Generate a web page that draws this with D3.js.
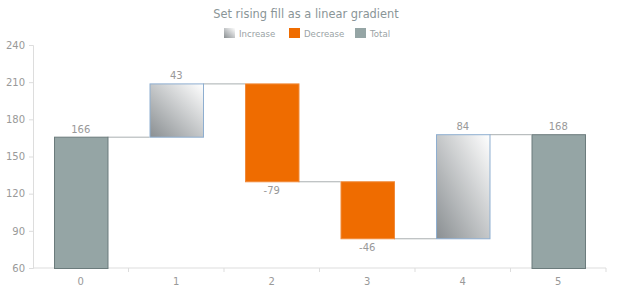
<!DOCTYPE html>
<html>
<head>
<meta charset="utf-8">
<script src="https://cdn.jsdelivr.net/npm/d3@7"></script>
<style>
  body { margin: 0; background: #fff; }
  text { font-family: 'DejaVu Sans', sans-serif; }
</style>
</head>
<body>
<div id="chart"></div>
<script>
const categories = ['0', '1', '2', '3', '4', '5'];
const changes = [166, 43, -79, -46, 84, 168];
const kinds = ['total', 'increase', 'decrease', 'decrease', 'increase', 'total'];
const yTicks = [60, 90, 120, 150, 180, 210, 240];
const legendItems = ['Increase', 'Decrease', 'Total'];

const width = 620;
const height = 300;
const marginLeft = 33;
const marginRight = 14;
const marginTop = 45;
const marginBottom = 32;

// running totals for the waterfall
const bars = [];
let running = 0;
changes.forEach((v, i) => {
  let start, end;
  if (kinds[i] === 'total') {
    start = 60; end = v; running = v;
  } else {
    start = running; end = running + v; running = end;
  }
  bars.push({ cat: categories[i], value: v, kind: kinds[i], start, end });
});

const x = d3.scaleBand()
  .domain(categories)
  .range([marginLeft, width - marginRight])
  .paddingInner(0.44)
  .paddingOuter(0.22);

const y = d3.scaleLinear()
  .domain([60, 240])
  .range([height - marginBottom, marginTop]);

const svg = d3.select('#chart').append('svg')
  .attr('width', width)
  .attr('height', height);

const defs = svg.append('defs');
const grad = defs.append('linearGradient')
  .attr('id', 'riseGrad')
  .attr('x1', '100%').attr('y1', '0%')
  .attr('x2', '0%').attr('y2', '100%');
grad.append('stop').attr('offset', '0%').attr('stop-color', '#ffffff');
grad.append('stop').attr('offset', '100%').attr('stop-color', '#8a8f92');

const fills = { increase: 'url(#riseGrad)', decrease: '#ef6c00', total: '#95a5a5' };
const strokes = { increase: '#8eaed0', decrease: '#f08a3a', total: '#6b7b7c' };

// title
svg.append('text')
  .attr('x', 306)
  .attr('y', 18)
  .attr('text-anchor', 'middle')
  .attr('font-size', 11.4)
  .attr('fill', '#8a9597')
  .text('Set rising fill as a linear gradient');

// legend
const legendX = [224, 289, 355];
const legend = svg.append('g');
legendItems.forEach((name, i) => {
  const key = name.toLowerCase();
  legend.append('rect')
    .attr('x', legendX[i]).attr('y', 28)
    .attr('width', 11).attr('height', 10)
    .attr('fill', fills[key]);
  legend.append('text')
    .attr('x', legendX[i] + 15).attr('y', 37)
    .attr('font-size', 8.6)
    .attr('fill', '#9aa3a5')
    .text(name);
});

// y axis
const yAxis = svg.append('g')
  .attr('transform', `translate(${marginLeft},0)`)
  .call(d3.axisLeft(y).tickValues(yTicks).tickSize(4).tickPadding(4));
yAxis.select('.domain').attr('stroke', '#dddddd');
yAxis.selectAll('.tick line').attr('stroke', '#dddddd');
yAxis.selectAll('.tick text').attr('fill', '#999').attr('font-size', 10)
  .attr('font-family', 'DejaVu Sans, sans-serif');

// x axis with ticks at band edges
const xAxisG = svg.append('g')
  .attr('transform', `translate(0,${y(60)})`);
xAxisG.append('line')
  .attr('x1', marginLeft).attr('x2', width - marginRight)
  .attr('stroke', '#dddddd');
const step = x.step();
const edges = categories.map((c) => x(c) + x.bandwidth() / 2 + step / 2);
xAxisG.selectAll('.edge').data(edges).join('line')
  .attr('x1', (d) => d).attr('x2', (d) => d)
  .attr('y1', 0).attr('y2', 4)
  .attr('stroke', '#dddddd');
xAxisG.selectAll('.lbl').data(categories).join('text')
  .attr('x', (d) => x(d) + x.bandwidth() / 2)
  .attr('y', 17)
  .attr('text-anchor', 'middle')
  .attr('font-size', 10)
  .attr('fill', '#999')
  .text((d) => d);

// connectors
const conn = [];
for (let i = 0; i < bars.length - 1; i++) {
  conn.push({ x1: x(bars[i].cat) + x.bandwidth(), x2: x(bars[i + 1].cat), v: bars[i].end });
}
svg.append('g').selectAll('line').data(conn).join('line')
  .attr('x1', (d) => d.x1).attr('x2', (d) => d.x2)
  .attr('y1', (d) => y(d.v) + 0.5).attr('y2', (d) => y(d.v) + 0.5)
  .attr('stroke', '#a9afb1')
  .attr('stroke-width', 1);

// bars
svg.append('g').selectAll('rect').data(bars).join('rect')
  .attr('x', (d) => x(d.cat) + 0.5)
  .attr('y', (d) => y(Math.max(d.start, d.end)) + 0.5)
  .attr('width', x.bandwidth())
  .attr('height', (d) => Math.abs(y(d.start) - y(d.end)))
  .attr('fill', (d) => fills[d.kind])
  .attr('stroke', (d) => strokes[d.kind])
  .attr('stroke-width', 1);

// value labels
svg.append('g').selectAll('text').data(bars).join('text')
  .attr('x', (d) => x(d.cat) + x.bandwidth() / 2)
  .attr('y', (d) => d.value < 0 ? y(d.end) + 13 : y(d.end) - 4)
  .attr('text-anchor', 'middle')
  .attr('font-size', 10)
  .attr('fill', '#999')
  .text((d) => d.value);
</script>
</body>
</html>
